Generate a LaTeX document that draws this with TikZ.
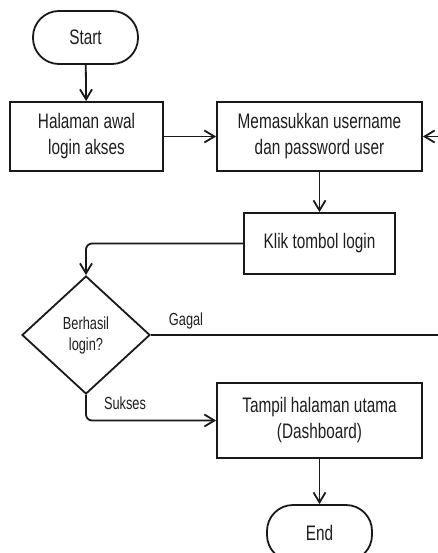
\documentclass[tikz,border=0pt]{standalone}
\usepackage{fontspec}
\setmainfont{Liberation Sans}[FakeStretch=0.73]
\usepackage{tikz}
\usetikzlibrary{shapes,arrows.meta,positioning,calc}
\definecolor{flowline}{RGB}{25, 25, 25}
\definecolor{flowtext}{RGB}{30, 30, 30}

\begin{document}
\begin{tikzpicture}[x=1pt, y=-1pt, line width=1.8pt, draw=flowline,
    >={Straight Barb[length=10pt, width=12pt]},
    box/.style={draw, rectangle, inner sep=0pt, align=center, text=flowtext, font=\fontsize{21}{26}\selectfont},
    terminal/.style={box, rounded corners=26pt},
    decision/.style={draw, diamond, inner sep=0pt, align=center, text=flowtext, font=\fontsize{17.5}{21}\selectfont},
    lbl/.style={text=flowtext, font=\fontsize{17.5}{21}\selectfont}]
        \useasboundingbox (0, 0) rectangle (438, 553);
        \clip (0, 0) rectangle (438, 553);

        % Start and first screen
        \node[terminal, minimum width=105pt, minimum height=53pt] (start) at (85.5, 37.5) {Start};
        \node[box, minimum width=153pt, minimum height=69pt] (halaman) at (86.5, 136.5) {Halaman awal\\login akses};

        % Input of user data
        \node[box, minimum width=205pt, minimum height=69pt] (input) at (319.5, 136.5) {Memasukkan username\\dan password user};
        \node[box, minimum width=151pt, minimum height=61pt] (klik) at (319.5, 243.5) {Klik tombol login};

        % Check
        \node[decision, minimum width=128pt, minimum height=118pt] (cek) at (86, 335) {Berhasil\\login?};

        % Result and end
        \node[box, minimum width=205pt, minimum height=75pt] (tampil) at (319.5, 420.5) {Tampil halaman utama\\(Dashboard)};
        \node[terminal, minimum width=105pt, minimum height=56pt] (end) at (319.5, 533) {End};

        % Arrows
        \draw[->] (start) -- (halaman);
        \draw[->] (halaman) -- (input);
        \draw[->] (input) -- (klik);
        \draw[->, rounded corners=6pt] (klik.west) -| (cek.north);
        \draw[->] (cek.east) -- (450, 335) |- (input.east);
        \draw[->, rounded corners=6pt] (cek.south) |- (tampil.west);
        \draw[->] (tampil) -- (end);

        % Labels
        \node[lbl] (gagal) at (186, 321) {Gagal};
        \node[lbl] (sukses) at (125, 403) {Sukses};
    \end{tikzpicture}
\end{document}
